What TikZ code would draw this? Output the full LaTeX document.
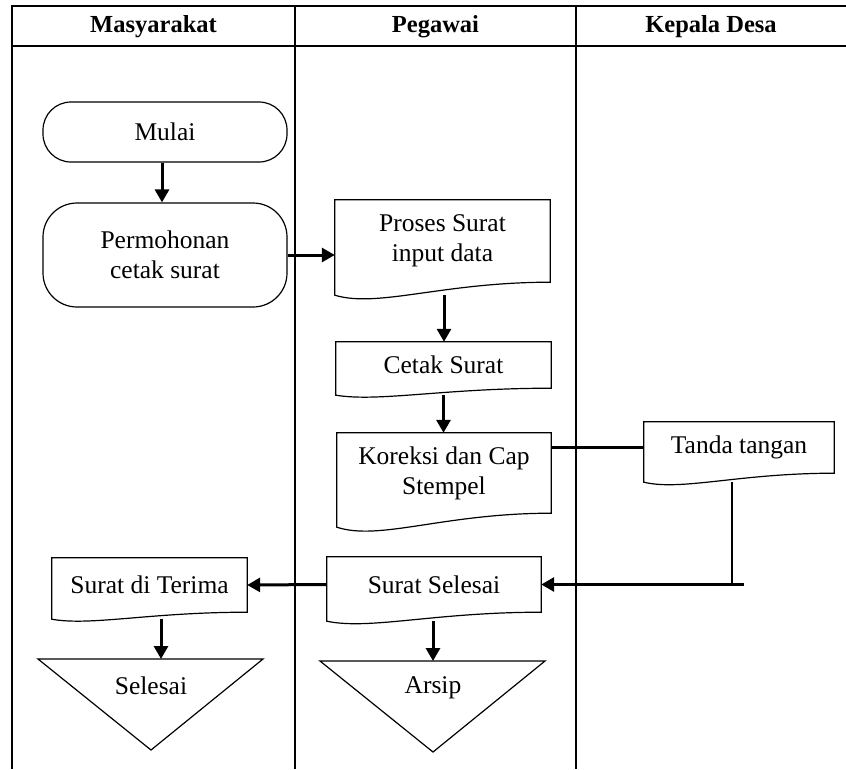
\documentclass[tikz,border=0pt]{standalone}
\usepackage{fontspec}
\setmainfont{Liberation Serif}
\usetikzlibrary{arrows.meta,calc}
\tikzset{
  boxline/.style={line width=1.2pt},
  tableline/.style={line width=1.4pt},
  flow/.style={line width=3pt,-{Triangle[length=13pt,width=14pt]}},
  plainflow/.style={line width=3pt},
  thinline/.style={line width=1.2pt},
  lbl/.style={font=\fontsize{25.5}{30}\selectfont, align=center, inner sep=0pt},
  hdr/.style={font=\fontsize{24.5}{28}\selectfont\bfseries, inner sep=0pt},
  terminal/.style={lbl, draw, boxline, rounded corners=#1},
}
\newcommand{\docoutline}[2]{%
  \coordinate (#1-l) at ([yshift=-#2pt]#1.south west);
  \coordinate (#1-r) at ([yshift=-#2pt]#1.south east);
  \coordinate (#1-b) at ([yshift=-#2pt]#1.south);
  \draw[boxline] (#1-l) -- (#1.north west) -- (#1.north east) -- (#1.south east)
    .. controls ($(#1.south west)!0.5!(#1.south east)$) and ($(#1-l)!0.2!(#1-r)+(0,#2)$) .. (#1-l) -- cycle;
}
\begin{document}
\begin{tikzpicture}[x=1pt,y=-1pt]
\useasboundingbox (0,0) rectangle (846,769);
% swimlane table
\draw[tableline] (12,769) -- (12,6) -- (846,6);
\draw[tableline] (12,46) -- (846,46);
\draw[tableline] (295,6) -- (295,769);
\draw[tableline] (576,6) -- (576,769);
\node[hdr] (h1) at (153.5,27) {Masyarakat};
\node[hdr] (h2) at (435.5,27) {Pegawai};
\node[hdr] (h3) at (711,27) {Kepala Desa};

% Masyarakat lane
\node[terminal=28pt, minimum width=244pt, minimum height=60pt] (mulai) at (165,132) {Mulai};
\node[terminal=34pt, minimum width=244pt, minimum height=104pt] (permohonan) at (165,255) {Permohonan\\cetak surat};

% Pegawai lane
\node[lbl, minimum width=215pt, minimum height=82pt] (proses) at (442.5,241) {Proses Surat\\input data};
\docoutline{proses}{13}
\node[lbl, minimum width=215pt, minimum height=46pt] (cetak) at (443.5,365) {Cetak Surat};
\docoutline{cetak}{7}
\node[lbl, minimum width=214pt, minimum height=80pt] (koreksi) at (444,473) {\fontsize{25.5}{27}\selectfont Koreksi dan Cap\\Stempel};
\docoutline{koreksi}{14}
\node[lbl, minimum width=214pt, minimum height=55pt] (suratselesai) at (434,584.5) {Surat Selesai};
\docoutline{suratselesai}{9}

% Kepala Desa lane
\node[lbl, minimum width=190pt, minimum height=51pt] (tanda) at (739,447.5) {Tanda tangan};
\docoutline{tanda}{9}

% Masyarakat bottom
\node[lbl, minimum width=195pt, minimum height=54pt] (terima) at (149.5,585) {Surat di Terima};
\docoutline{terima}{7}

% terminators (triangles)
\coordinate (selL) at (38,659);
\coordinate (selR) at (263,659);
\coordinate (selA) at (151,750);
\draw[boxline] (selL) -- (selR) -- (selA) -- cycle;
\node[lbl] (selesai) at (151,686) {Selesai};
\coordinate (selesai-top) at (161,659);

\coordinate (arsL) at (320,661);
\coordinate (arsR) at (545,661);
\coordinate (arsA) at (433,752);
\draw[boxline] (arsL) -- (arsR) -- (arsA) -- cycle;
\node[lbl] (arsip) at (433,688) {Arsip};
\coordinate (arsip-top) at (433,661);

% connectors
\draw[flow] ([xshift=-3pt]mulai.south) -- ([xshift=-3pt]permohonan.north);
\draw[flow] (permohonan.east) -- (permohonan.east -| proses.west);
\draw[flow] ([xshift=1.5pt]proses-b) -- ([xshift=1.5pt]proses-b |- cetak.north);
\draw[flow] (cetak-b) -- (cetak-b |- koreksi.north);
\draw[plainflow] (tanda.west -| koreksi.east) -- (tanda.west);
\coordinate (junction) at ($(suratselesai.east)+(203,0)$);
\draw[thinline] ([xshift=-7pt]tanda-b) -- ([xshift=-7pt]tanda-b |- junction);
\draw[flow] (junction) -- (suratselesai.east);
\draw[flow] (suratselesai.west) -- (terima.east);
\draw[flow] (selesai-top |- terima-b) -- (selesai-top);
\draw[flow] (arsip-top |- suratselesai-b) -- (arsip-top);
\end{tikzpicture}
\end{document}
